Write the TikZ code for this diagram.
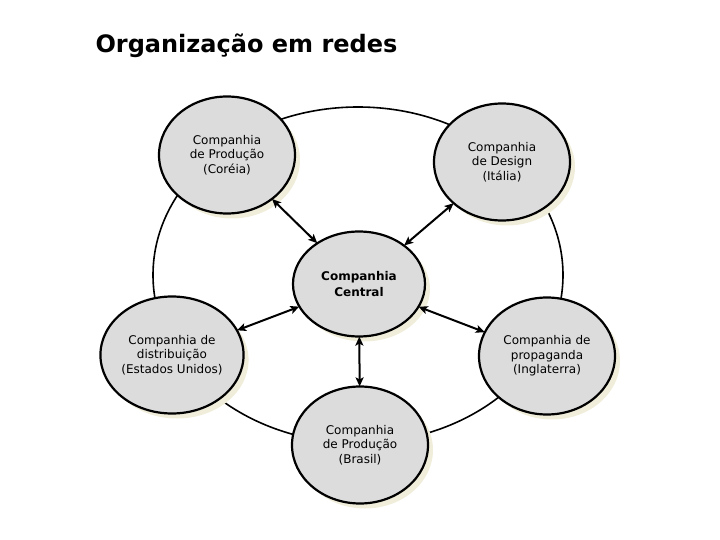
\documentclass[tikz,border=0pt]{standalone}
\usepackage{fontspec}
\setmainfont{DejaVu Sans}
\usetikzlibrary{
  positioning,
  arrows.meta,
  shapes.geometric,
  shadows
}
\definecolor{bubble}{HTML}{DCDCDC}
\definecolor{shade}{HTML}{F0EDDA}

\begin{document}
\begin{tikzpicture}[
  x=1pt, y=-1pt,
  comp/.style={ellipse, draw, line width=2.2pt, fill=bubble, inner sep=0pt,
               minimum width=136pt, minimum height=117pt, align=center,
               font=\fontsize{12}{14.5}\selectfont,
               drop shadow={shadow xshift=5pt, shadow yshift=-5pt, fill=shade, opacity=1}},
  link/.style={{Stealth[length=9pt, width=8pt, inset=2pt]}-{Stealth[length=9pt, width=8pt, inset=2pt]},
               line width=2pt, shorten <=-1pt, shorten >=-1pt},
  ring/.style={line width=1.6pt},
]
  \useasboundingbox (0,0) rectangle (720,540);

  % Title
  \node[font=\fontsize{24}{28}\selectfont\bfseries, anchor=base west] (title)
    at (92,53) {Organização em redes};

  % Outer ring joining the partners
  \draw[ring] (358,275) ellipse [x radius=205, y radius=168];

  % Partner companies
  \node[comp] (korea) at (227,155) {Companhia\\de Produção\\(Coréia)};
  \node[comp] (italy) at (502,162) {Companhia\\de Design\\(Itália)};
  \node[comp] (usa) at (172,355) {Companhia de\\distribuição\\(Estados Unidos)};
  \node[comp] (england) at (547,356) {Companhia de\\propaganda\\(Inglaterra)};
  \node[comp] (brazil) at (360,445) {Companhia\\de Produção\\(Brasil)};

  % Hub
  \node[comp, minimum width=132pt, minimum height=105pt,
        font=\fontsize{12}{16}\selectfont\bfseries] (central) at (359,284)
        {Companhia\\Central};

  \draw[link] (korea) -- (central);
  \draw[link] (italy) -- (central);
  \draw[link] (usa) -- (central);
  \draw[link] (england) -- (central);
  \draw[link] (brazil) -- (central);
\end{tikzpicture}
\end{document}
